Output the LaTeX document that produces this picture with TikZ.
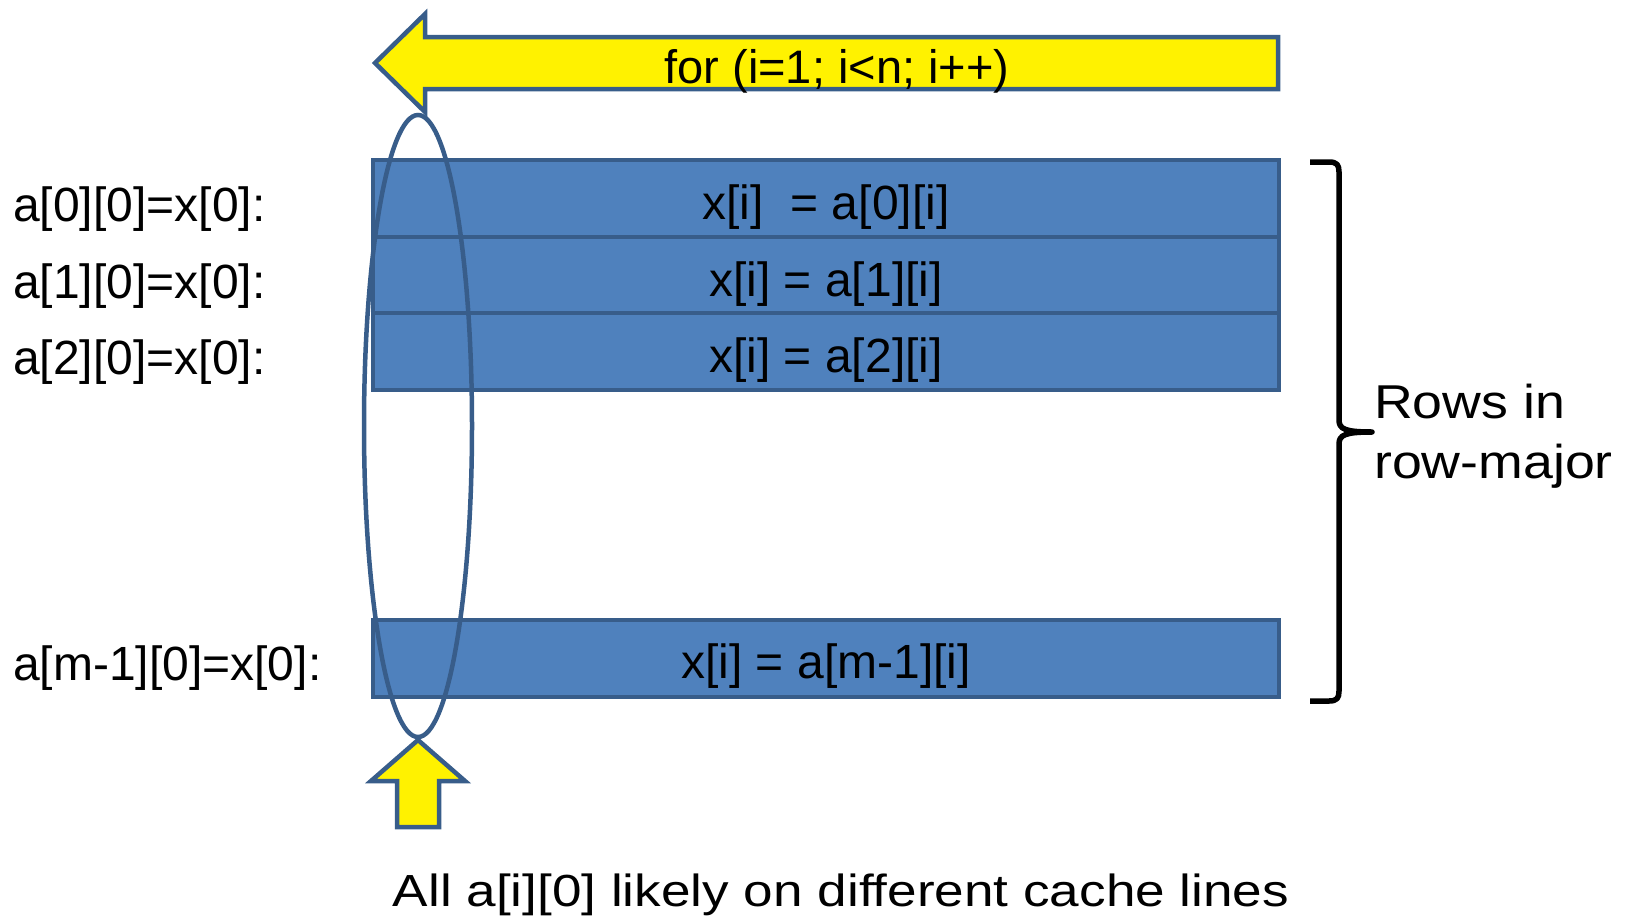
\documentclass[tikz,border=0pt]{standalone}
\usepackage{fontspec}
\usepackage{graphicx}
\setmainfont{Liberation Sans}
\usetikzlibrary{shapes.geometric}

\definecolor{rowfill}{HTML}{4F81BD}
\definecolor{edgeblue}{HTML}{385D8A}

\begin{document}
\begin{tikzpicture}[x=1pt,y=-1pt,
  rowbox/.style={draw=edgeblue, fill=rowfill, line width=4pt},
  yarrow/.style={draw=edgeblue, fill=yellow, line width=4.5pt, line join=miter},
  txt/.style={inner sep=0pt, font=\fontsize{48}{58}\selectfont},
  lbl/.style={txt, anchor=west},
  bigtxt/.style={inner sep=0pt, font=\fontsize{47.5}{58}\selectfont}]

\useasboundingbox (0,0) rectangle (1626,919);

% matrix rows
\path[rowbox] (373,160) rectangle (1279,237);
\path[rowbox] (373,237) rectangle (1279,313);
\path[rowbox] (373,313) rectangle (1279,390);
\path[rowbox] (373,620) rectangle (1279,697);

\node[txt] (row0) at (826,207) {x[i]\ \ = a[0][i]};
\node[txt] (row1) at (826,284) {x[i] = a[1][i]};
\node[txt] (row2) at (826,360) {x[i] = a[2][i]};
\node[txt] (rowm) at (826,666) {x[i] = a[m-1][i]};

% row labels on the left
\node[lbl] (lab0) at (13,209) {a[0][0]=x[0]:};
\node[lbl] (lab1) at (13,286) {a[1][0]=x[0]:};
\node[lbl] (lab2) at (13,362) {a[2][0]=x[0]:};
\node[lbl] (labm) at (13,668) {a[m-1][0]=x[0]:};

% column 0 ring
\node[draw=edgeblue, line width=4.5pt, ellipse, inner sep=0pt,
      minimum width=108pt, minimum height=622pt] (col) at (418,426) {};

% loop direction arrow
\draw[yarrow] (1278,37) -- (425,37) -- (425,14) -- (375,63) -- (425,112)
  -- (425,89) -- (1278,89) -- cycle;
\node[txt, font=\fontsize{47}{56}\selectfont] (loop) at (837,71) {for (i=1; i<n; i++)};

% column access arrow
\draw[yarrow] (418,740) -- (465,781) -- (439,781) -- (439,827) -- (397,827)
  -- (397,781) -- (371,781) -- cycle;

% brace over the rows
\draw[line width=5.5pt, line cap=butt, line join=round]
  (1310,162) -- (1329,162) .. controls (1337,162) and (1339,165) .. (1339,172)
  -- (1339,420) .. controls (1339,429) and (1345,432) .. (1372,432)
  .. controls (1345,432) and (1339,435) .. (1339,444)
  -- (1339,691) .. controls (1339,698) and (1337,701) .. (1329,701) -- (1310,701);

\node[bigtxt, anchor=base west] (rowsA) at (1374,418) {\scalebox{1.13}[1]{Rows in}};
\node[bigtxt, anchor=base west] (rowsB) at (1374,478) {\scalebox{1.13}[1]{row-major}};

\node[inner sep=0pt, font=\fontsize{45}{52}\selectfont, anchor=base] (note) at (841,906)
  {\scalebox{1.18}[1]{All a[i][0] likely on different cache lines}};

\end{tikzpicture}
\end{document}
